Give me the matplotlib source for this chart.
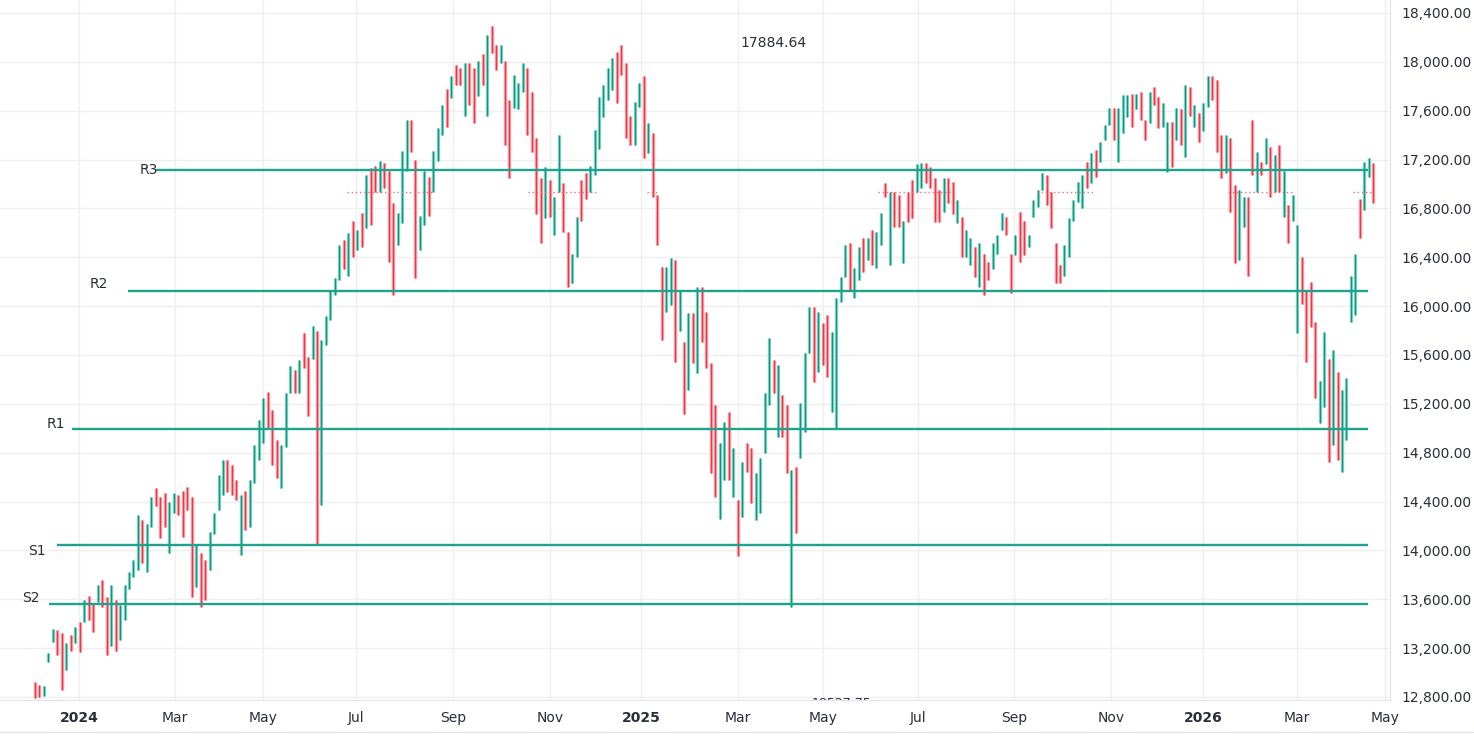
import matplotlib
matplotlib.use("Agg")
import matplotlib.pyplot as plt
from matplotlib.lines import Line2D

# ---------------- data (each bar = two sessions) ----------------
highs = [
    12920, 12900, 12890, 13160, 13360, 13350, 13320, 13240, 13310, 13370,
    13410, 13590, 13630, 13570, 13720, 13760, 13620, 13720, 13590, 13550,
    13720, 13820, 13920, 14290, 14250, 14220, 14440, 14510, 14440, 14470,
    14400, 14470, 14450, 14490, 14520, 14440, 14040, 13980, 13920, 14150,
    14310, 14620, 14740, 14740, 14700, 14580, 14450, 14490, 14580, 14860,
    15070, 15250, 15300, 15150, 14900, 14860, 15290, 15510, 15480, 15560,
    15780, 15580, 15840, 15800, 15720, 15920, 16120, 16230, 16500, 16540,
    16600, 16700, 16620, 16760, 17070, 17130, 17150, 17190, 17170, 17110,
    16840, 16760, 17270, 17520, 17520, 17200, 16740, 17110, 17060, 17270,
    17460, 17650, 17780, 17880, 17970, 17950, 17990, 17990, 17950, 18010,
    18060, 18220, 18290, 18140, 18140, 18010, 17690, 17890, 17830, 17990,
    17950, 17750, 17380, 17050, 17140, 17030, 16890, 17400, 17010, 16610,
    16430, 16730, 17030, 17090, 17150, 17440, 17710, 17810, 17950, 18030,
    18080, 18140, 17990, 17560, 17670, 17830, 17880, 17500, 17420, 16910,
    16320, 16320, 16390, 16380, 16130, 15710, 15940, 15940, 16160, 16160,
    15950, 15530, 15190, 14880, 15050, 15130, 14840, 14410, 14720, 14880,
    14840, 14630, 14760, 15290, 15740, 15560, 15520, 15270, 15190, 14660,
    14680, 15210, 15620, 15990, 15990, 15950, 15860, 15930, 15790, 16070,
    16240, 16500, 16520, 16310, 16480, 16560, 16560, 16620, 16610, 16760,
    17010, 16930, 16930, 16910, 16700, 16930, 17030, 17160, 17170, 17170,
    17140, 17050, 16950, 17050, 17050, 17020, 16870, 16730, 16620, 16560,
    16480, 16520, 16430, 16360, 16520, 16580, 16760, 16730, 16430, 16580,
    16770, 16700, 16580, 16870, 16950, 17090, 17070, 16930, 16520, 16340,
    16500, 16720, 16870, 17020, 17070, 17180, 17250, 17280, 17340, 17480,
    17620, 17620, 17620, 17730, 17730, 17740, 17740, 17750, 17520, 17750,
    17790, 17710, 17660, 17510, 17510, 17620, 17610, 17810, 17790, 17650,
    17580, 17660, 17880, 17880, 17850, 17400, 17400, 17380, 16990, 16950,
    16890, 16890, 17520, 17260, 17180, 17380, 17300, 17240, 17320, 17110,
    16830, 16910, 16660, 16400, 16130, 16200, 15870, 15390, 15790, 15570,
    15640, 15460, 15310, 15410, 16250, 16430, 16880, 17180, 17210, 17170,
]
lows = [
    12790, 12800, 12810, 13090, 13250, 13140, 12860, 13020, 13180, 13240,
    13170, 13410, 13430, 13330, 13580, 13540, 13140, 13220, 13180, 13270,
    13430, 13680, 13780, 13840, 13900, 13820, 14190, 14360, 14100, 14190,
    13980, 14310, 14290, 14110, 14330, 13620, 13700, 13540, 13590, 13840,
    14130, 14330, 14450, 14480, 14450, 14410, 13960, 14170, 14190, 14550,
    14740, 14880, 14990, 14700, 14590, 14510, 14850, 15290, 15290, 15290,
    15490, 15100, 15570, 14040, 14370, 15680, 15890, 16090, 16210, 16300,
    16250, 16400, 16460, 16480, 16640, 16660, 16930, 16930, 16970, 16360,
    16090, 16500, 16680, 17110, 17260, 16230, 16460, 16660, 16740, 16930,
    17190, 17400, 17470, 17700, 17810, 17810, 17560, 17650, 17500, 17720,
    17810, 17560, 18070, 17930, 17990, 17320, 17050, 17620, 17610, 17750,
    17400, 17260, 16750, 16520, 16720, 16730, 16580, 16930, 16610, 16160,
    16190, 16400, 16700, 16880, 16930, 17070, 17290, 17550, 17690, 17770,
    17660, 17890, 17380, 17320, 17320, 17630, 17210, 17250, 16890, 16500,
    15720, 15950, 16010, 15540, 15800, 15120, 15310, 15530, 15450, 15710,
    15490, 14630, 14440, 14260, 14580, 14580, 14440, 13950, 14270, 14640,
    14390, 14250, 14310, 14800, 15190, 15290, 14930, 14930, 14630, 13540,
    14140, 14760, 14970, 15620, 15380, 15460, 15520, 15420, 15130, 15000,
    16030, 16240, 16130, 16070, 16210, 16280, 16380, 16340, 16310, 16500,
    16890, 16340, 16650, 16650, 16350, 16690, 16720, 16930, 16970, 17010,
    16970, 16690, 16690, 16770, 16840, 16750, 16680, 16400, 16400, 16340,
    16240, 16160, 16090, 16210, 16300, 16430, 16620, 16580, 16110, 16420,
    16360, 16420, 16480, 16730, 16810, 16950, 16830, 16640, 16190, 16190,
    16250, 16400, 16700, 16850, 16800, 16970, 17010, 17060, 17180, 17360,
    17480, 17360, 17180, 17420, 17550, 17470, 17610, 17520, 17360, 17500,
    17650, 17460, 17470, 17100, 17140, 17360, 17320, 17220, 17560, 17470,
    17340, 17430, 17630, 17690, 17260, 17050, 17090, 16770, 16350, 16380,
    16650, 16250, 17070, 16930, 17070, 17160, 16890, 16930, 16930, 16730,
    16520, 16700, 15780, 16020, 15540, 15830, 15250, 15040, 15170, 14720,
    14860, 14740, 14640, 14900, 15870, 15930, 16560, 16790, 17060, 16840,
]
direction = (
    "dduuuddudu" "dudduddudu" "uuuuduuddd" "uudddduddu" "uuuddduduu"
    "uuddduuudu" "dduduuuuud" "udududdudd" "duuudduudu" "uududduddu"
    "duddudduuu" "dddduduudd" "uudduuuuuu" "dddduududd" "duudududud"
    "ddduududud" "duuuududdu" "duuududduu" "uuduududuu" "duddudduud"
    "dddudduduu" "dudduuuddu" "dduuuudddd" "uuuuududuu" "uduuududdu"
    "dduudududu" "duuddduddu" "uddudududu" "duudddduud" "uduuuuduud"
)
level_names = ["R3", "R2", "R1", "S1", "S2"]
level_values = [17115, 16123, 14993, 14044, 13561]
month_labels = ["2024", "Mar", "May", "Jul", "Sep", "Nov", "2025", "Mar", "May",
                "Jul", "Sep", "Nov", "2026", "Mar", "May"]
month_start_bar = [9.8, 31.3, 50.9, 71.7, 93.4, 115.1, 135.4, 157.1, 176.1,
                   197.3, 218.7, 240.4, 261.0, 282.0, 301.6]
price_ticks = list(range(12800, 18401, 400))
last_price = 16934
top_note = "17884.64"
bottom_note = "18527.75"

# ---------------- layout helpers ----------------
W, H = 1474, 737
AX_W, AX_H = 1390, 700
BAR_PX = 4.476
X0_PX = 35
Y_TOP, Y_BOT = 18506, 12775


def bx(px):
    return (px - X0_PX) / BAR_PX


def vy(py):
    return Y_TOP - (Y_TOP - Y_BOT) * py / AX_H


TEXT = "#2a2e39"
TEAL = "#1fa38f"
UP_D, UP_L = "#089981", "#86cfc2"
DN_D, DN_L = "#f23645", "#f59aa2"
GRID = "#efefef"

fig = plt.figure(figsize=(W / 100, H / 100), dpi=100)
ax = fig.add_axes([0, 1 - AX_H / H, AX_W / W, AX_H / H])
ax.set_xlim(bx(0), bx(AX_W))
ax.set_ylim(Y_BOT, Y_TOP)

# grid
for t in price_ticks:
    ax.axhline(t, color=GRID, lw=1, zorder=0)
for m in month_start_bar:
    ax.axvline(m, color=GRID, lw=1, zorder=0)

# bars
xs = list(range(len(highs)))
cl = [UP_L if d == "u" else DN_L for d in direction]
cd = [UP_D if d == "u" else DN_D for d in direction]
ax.vlines(xs, lows, highs, colors=cl, lw=2.4, zorder=2)
ax.vlines(xs, lows, highs, colors=cd, lw=0.8, zorder=3)

# support / resistance lines
starts = [155, 128, 72, 57, 49]
lab_x = [140, 90, 47, 28, 22]
lab_dy = [0, 7, 5, -6, 6]
for name, v, s, lx, dy in zip(level_names, level_values, starts, lab_x, lab_dy):
    ax.hlines(v, bx(s), bx(1368), color=TEAL, lw=1.7, zorder=4)
    ax.text(bx(lx), v + dy * (Y_TOP - Y_BOT) / AX_H, name, fontsize=10,
            color=TEXT, ha="left", va="center", zorder=5)

# dotted last-price line segments
for a, b in [(347, 432), (528, 597), (647, 658), (878, 955), (1037, 1093),
             (1228, 1293), (1353, 1373)]:
    ax.hlines(last_price, bx(a), bx(b), color="#f26d78", lw=1,
              linestyles=(0, (1, 2)), zorder=3)

# notes
ax.text(bx(774), vy(43), top_note, fontsize=10, color=TEXT,
        ha="center", va="center")
ax.text(bx(842), vy(703), bottom_note, fontsize=9, color=TEXT,
        ha="center", va="center", clip_on=True)

# axes styling
for sp in ["top", "left"]:
    ax.spines[sp].set_visible(False)
ax.spines["right"].set_color("#e0e3eb")
ax.spines["bottom"].set_color("#e0e3eb")
ax.yaxis.tick_right()
ax.set_yticks(price_ticks)
ax.set_yticklabels([f"{t:,.2f}" for t in price_ticks])
ax.tick_params(axis="y", length=0, pad=8, labelsize=10, labelcolor=TEXT)
ax.set_xticks(month_start_bar)
ax.set_xticklabels(month_labels)
ax.tick_params(axis="x", length=0, pad=8, labelsize=10, labelcolor=TEXT)
for lbl in ax.get_xticklabels():
    if lbl.get_text().isdigit():
        lbl.set_fontweight("bold")

fig.add_artist(Line2D([0, 1], [1 - 732 / H] * 2, color="#e0e3eb", lw=1,
                      transform=fig.transFigure))

fig.savefig("out.png", dpi=100, facecolor="white")
